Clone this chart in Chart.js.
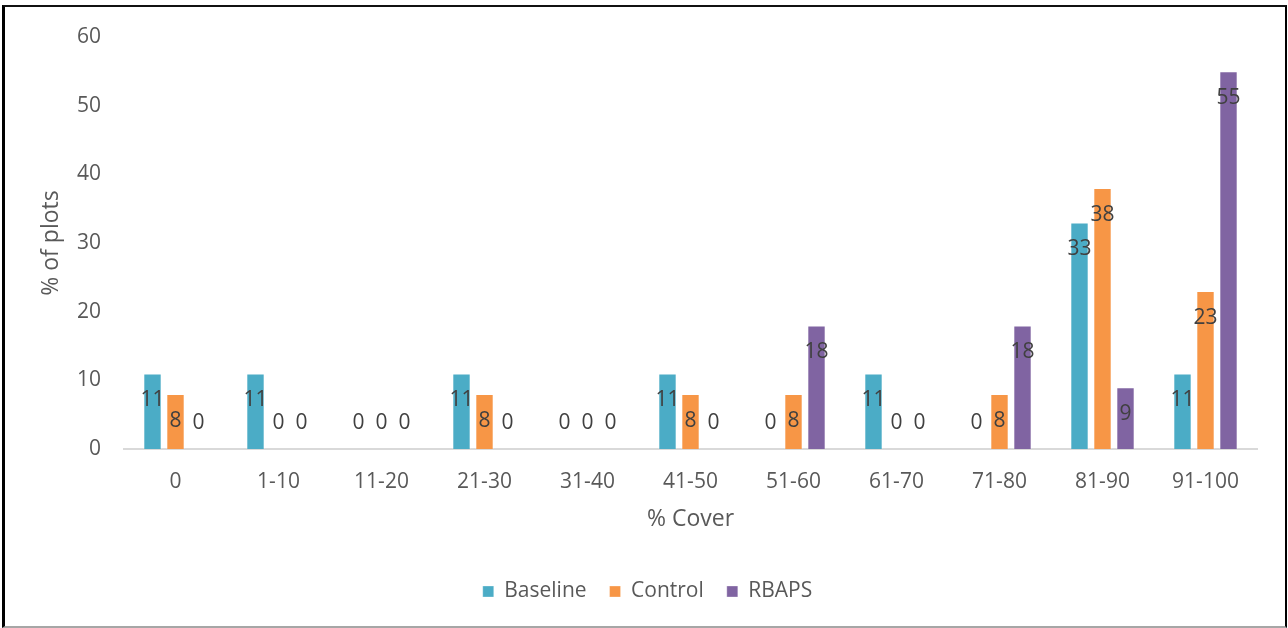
<!DOCTYPE html>
<html>
<head>
<meta charset="utf-8">
<script src="https://cdn.jsdelivr.net/npm/chart.js@4"></script>
<style>
  html, body { margin: 0; padding: 0; background: #fff; }
  #wrap { position: relative; width: 1288px; height: 628px; }
  #frame {
    position: absolute; left: 2px; top: 5px; width: 1285px; height: 623px;
    box-sizing: border-box; pointer-events: none;
    border-left: 3px solid #000; border-top: 2px solid #111;
    border-right: 2px solid #000; border-bottom: 2px solid #a6a6a6;
  }
</style>
</head>
<body>
<div id="wrap">
  <canvas id="c" width="1288" height="628"></canvas>
  <div id="frame"></div>
</div>
<script>
// Cover classes and share of plots (%) in each class
const categories = ['0', '1-10', '11-20', '21-30', '31-40', '41-50', '51-60', '61-70', '71-80', '81-90', '91-100'];
const baseline = [11, 11, 0, 11, 0, 11, 0, 11, 0, 33, 11];
const control  = [8, 0, 0, 8, 0, 8, 8, 0, 8, 38, 23];
const rbaps    = [0, 0, 0, 0, 0, 0, 18, 0, 18, 9, 55];
const seriesNames = ['Baseline', 'Control', 'RBAPS'];
const yTicks = [0, 10, 20, 30, 40, 50, 60];

const FONT = "'Open Sans', sans-serif";
const colors = ['#4BACC6', '#F79646', '#8064A2'];

// Value labels sitting just inside the top of each bar
const valueLabels = {
  id: 'valueLabels',
  afterDatasetsDraw(chart) {
    const ctx = chart.ctx;
    ctx.save();
    ctx.font = '21px ' + FONT;
    ctx.fillStyle = '#404040';
    ctx.textAlign = 'center';
    ctx.textBaseline = 'middle';
    chart.data.datasets.forEach((ds, di) => {
      const meta = chart.getDatasetMeta(di);
      meta.data.forEach((bar, i) => {
        const y = Math.min(bar.y + 27, bar.base - 26);
        ctx.fillText(String(ds.data[i]), bar.x, y);
      });
    });
    ctx.restore();
  }
};

new Chart(document.getElementById('c'), {
  type: 'bar',
  data: {
    labels: categories,
    datasets: [baseline, control, rbaps].map((d, i) => ({
      label: seriesNames[i],
      data: d,
      backgroundColor: colors[i],
      borderColor: 'rgba(255,255,255,0.3)',
      borderWidth: 1,
      categoryPercentage: 0.67,
      barPercentage: 0.8
    }))
  },
  options: {
    responsive: false,
    animation: false,
    devicePixelRatio: 1,
    layout: { padding: { left: 38, right: 31, top: 37, bottom: 16 } },
    plugins: {
      tooltip: { enabled: false },
      legend: {
        position: 'bottom',
        labels: {
          font: { family: FONT, size: 21 },
          color: '#595959',
          boxWidth: 11,
          boxHeight: 11,
          padding: 23
        }
      }
    },
    scales: {
      x: {
        grid: { display: false, drawTicks: false },
        border: { display: true, color: '#D9D9D9', width: 2 },
        ticks: { font: { family: FONT, size: 21 }, color: '#595959', padding: 20, maxRotation: 0 },
        title: {
          display: true, text: '% Cover',
          font: { family: FONT, size: 23 }, color: '#595959',
          padding: { top: 0, bottom: 25 }
        },
        afterFit(scale) { scale.height = 109; }
      },
      y: {
        min: 0, max: 60,
        afterBuildTicks(scale) { scale.ticks = yTicks.map(v => ({ value: v })); },
        grid: { display: false, drawTicks: false },
        border: { display: false },
        ticks: { font: { family: FONT, size: 21 }, color: '#595959', padding: 23 },
        title: {
          display: true, text: '% of plots',
          font: { family: FONT, size: 23 }, color: '#595959',
          padding: { top: 0, bottom: 0 }
        },
        afterFit(scale) { scale.width = 86; }
      }
    }
  },
  plugins: [valueLabels]
});
</script>
</body>
</html>
